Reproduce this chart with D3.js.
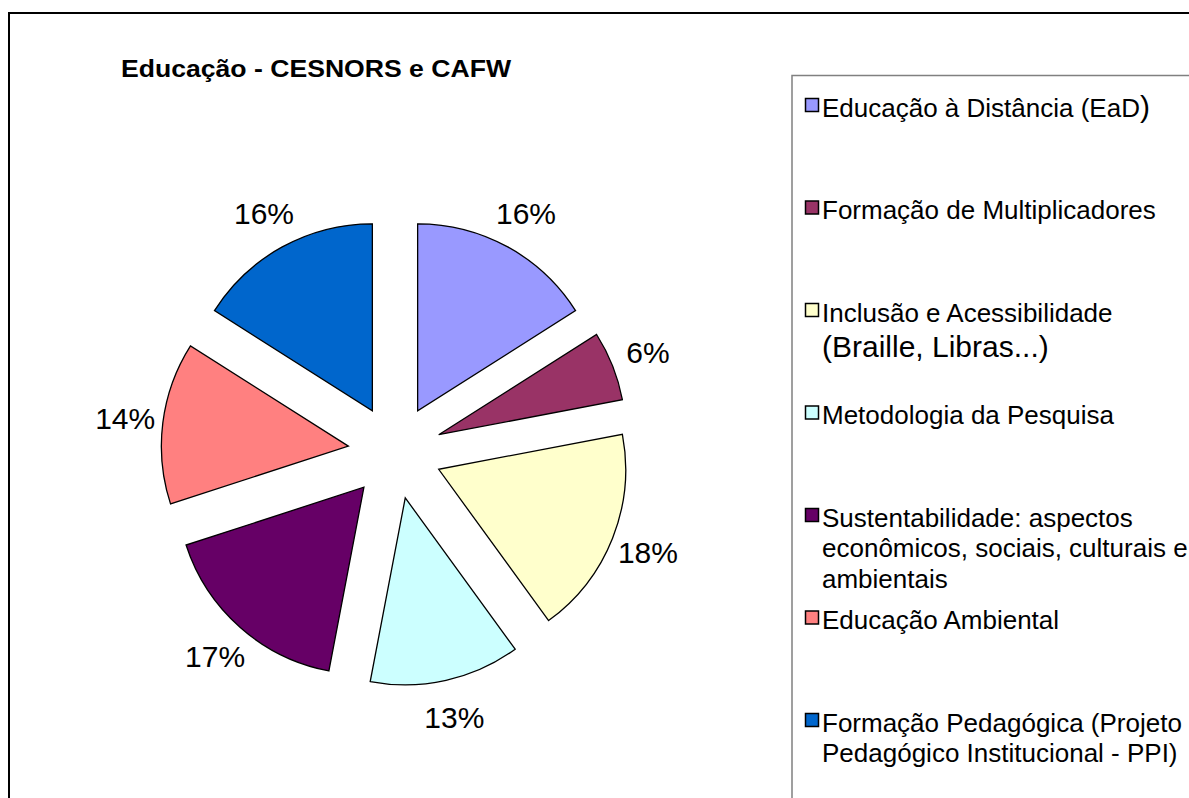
<!DOCTYPE html>
<html>
<head>
<meta charset="utf-8">
<script src="https://cdn.jsdelivr.net/npm/d3@7"></script>
<style>
  body { margin: 0; background: #fff; }
  svg { display: block; font-family: "Liberation Sans", Arial, sans-serif; }
</style>
</head>
<body>
<div id="chart"></div>
<script>
var width = 1189, height = 798;

// slices, clockwise from 12 o'clock
var categories = [
    "Educação à Distância (EaD)",
    "Formação de Multiplicadores",
    "Inclusão e Acessibilidade (Braille, Libras...)",
    "Metodologia da Pesquisa",
    "Sustentabilidade: aspectos econômicos, sociais, culturais e ambientais",
    "Educação Ambiental",
    "Formação Pedagógica (Projeto Pedagógico Institucional - PPI)"
];
var values = [16, 6, 18, 13, 17, 14, 16];
var colors = ["#9999FF", "#993366", "#FFFFCC", "#CCFFFF", "#660066", "#FF8080", "#0066CC"];

// legend text as it is wrapped in the picture
var legendLines = [
    ["Educação à Distância (EaD)"],
    ["Formação de Multiplicadores"],
    ["Inclusão e Acessibilidade", "(Braille, Libras...)"],
    ["Metodologia da Pesquisa"],
    ["Sustentabilidade: aspectos", "econômicos, sociais, culturais e", "ambientais"],
    ["Educação Ambiental"],
    ["Formação Pedagógica (Projeto", "Pedagógico Institucional - PPI)"]
];

var title = "Educação - CESNORS e CAFW";

var cx = 395, cy = 452;
var r = 187, explode = 47, labelR = 272;

var svg = d3.select("#chart")
    .append("svg")
    .attr("width", width)
    .attr("height", height);

// chart area border (runs off the right and bottom)
svg.append("rect")
    .attr("x", 9).attr("y", 13)
    .attr("width", width + 20).attr("height", height + 20)
    .attr("fill", "none")
    .attr("stroke", "#000")
    .attr("stroke-width", 2);

// title
svg.append("text")
    .attr("x", 121).attr("y", 77)
    .attr("font-size", 23)
    .attr("font-weight", "bold")
    .attr("textLength", 390)
    .attr("lengthAdjust", "spacingAndGlyphs")
    .text(title);

// pie
var pie = d3.pie().sort(null).value(function(d) { return d; });
var arc = d3.arc().innerRadius(0).outerRadius(r);
var arcs = pie(values);

var g = svg.append("g").attr("transform", "translate(" + cx + "," + cy + ")");

g.selectAll(".slice")
    .data(arcs)
    .enter()
    .append("path")
    .attr("class", "slice")
    .attr("d", arc)
    .attr("transform", function(d) {
        var a = (d.startAngle + d.endAngle) / 2;
        return "translate(" + explode * Math.sin(a) + "," + (-explode * Math.cos(a)) + ")";
    })
    .attr("fill", function(d, i) { return colors[i]; })
    .attr("stroke", "#000")
    .attr("stroke-width", 1.3)
    .attr("stroke-linejoin", "miter");

// percentage labels
var total = d3.sum(values);
g.selectAll(".lbl")
    .data(arcs)
    .enter()
    .append("text")
    .attr("class", "lbl")
    .attr("x", function(d) { return labelR * Math.sin((d.startAngle + d.endAngle) / 2); })
    .attr("y", function(d) { return -labelR * Math.cos((d.startAngle + d.endAngle) / 2); })
    .attr("dy", "0.36em")
    .attr("text-anchor", "middle")
    .attr("font-size", 30)
    .text(function(d) { return d3.format(".0%")(d.value / total); });

// legend box (runs off the right and bottom)
svg.append("rect")
    .attr("x", 792).attr("y", 75.5)
    .attr("width", 500).attr("height", 800)
    .attr("fill", "none")
    .attr("stroke", "#808080")
    .attr("stroke-width", 1.5);

var legendY = d3.scaleLinear().domain([0, 6]).range([116.5, 731.5]);

var item = svg.selectAll(".leg")
    .data(legendLines)
    .enter()
    .append("g")
    .attr("class", "leg")
    .attr("transform", function(d, i) { return "translate(0," + legendY(i) + ")"; });

item.append("rect")
    .attr("x", 805.5).attr("y", -18)
    .attr("width", 13).attr("height", 13)
    .attr("fill", function(d, i) { return colors[i]; })
    .attr("stroke", "#000")
    .attr("stroke-width", 1.5);

item.each(function(lines, i) {
    var t = d3.select(this);
    var y = 0;
    lines.forEach(function(line, j) {
        var big = line.charAt(0) == "(";   // "(Braille, Libras...)" is set larger
        if (j > 0) y += big ? 35 : 30.5;
        var txt = t.append("text")
            .attr("x", 822).attr("y", y)
            .attr("font-size", big ? 30 : 26);
        if (i == 0) {
            // closing bracket is set larger in the original
            txt.append("tspan").text(line.slice(0, -1));
            txt.append("tspan").attr("font-size", 30).text(line.slice(-1));
        } else {
            txt.text(line);
        }
    });
});
</script>
</body>
</html>
